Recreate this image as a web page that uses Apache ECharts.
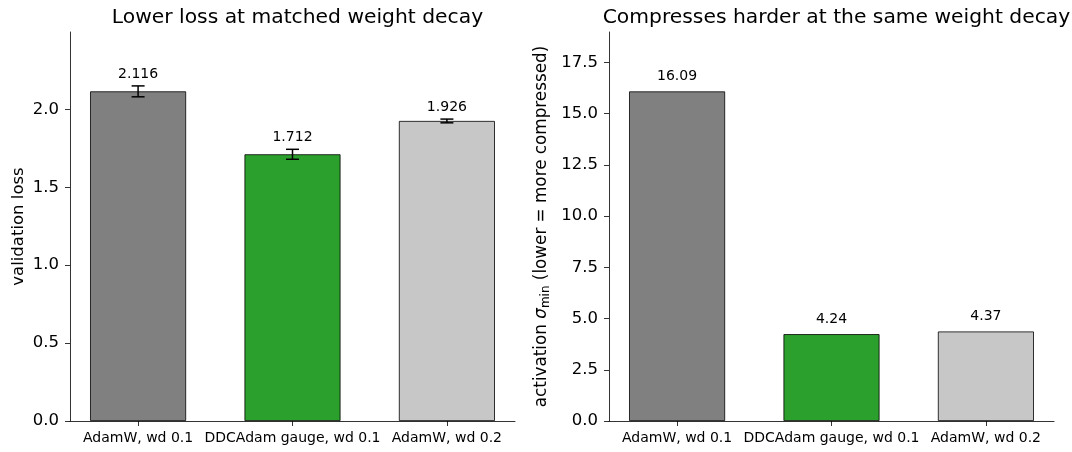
<!DOCTYPE html>
<html>
<head>
<meta charset="utf-8">
<script src="https://cdn.jsdelivr.net/npm/echarts@6/dist/echarts.min.js"></script>
<style>
  html, body { margin: 0; padding: 0; background: #fff; }
  #chart { width: 1072px; height: 452px; }
</style>
</head>
<body>
<div id="chart"></div>
<script>
// Run labels shared by both panels
const categories = ['AdamW, wd 0.1', 'DDCAdam gauge, wd 0.1', 'AdamW, wd 0.2'];
const barColors = ['#808080', '#2ca02c', '#c7c7c7'];

// Left panel: validation loss (mean and spread over seeds)
const lossValues = [2.116, 1.712, 1.926];
const lossErrors = [0.035, 0.032, 0.012];
const lossTicks = [0, 0.5, 1.0, 1.5, 2.0];

// Right panel: smallest activation singular value
const sigmaValues = [16.09, 4.24, 4.37];
const sigmaTicks = [0, 2.5, 5.0, 7.5, 10.0, 12.5, 15.0, 17.5];

const FONT = 'DejaVu Sans';
const TICK_FS = 16.5;
const positions = categories.map((_, i) => i);
const xPad = 0.441;

function xAxisFor(gridIndex) {
  return {
    type: 'value', gridIndex,
    min: -xPad, max: positions.length - 1 + xPad,
    splitLine: { show: false },
    axisLine: { show: true, onZero: false, lineStyle: { color: '#000', width: 0.8 } },
    axisTick: { show: true, customValues: positions, length: 5, lineStyle: { color: '#000', width: 0.8 } },
    axisLabel: {
      customValues: positions, margin: 10,
      color: '#000', fontFamily: FONT, fontSize: 14,
      formatter: v => categories[Math.round(v)]
    }
  };
}

function yAxisFor(gridIndex, max, ticks, decimals, name) {
  return {
    type: 'value', gridIndex, min: 0, max,
    splitLine: { show: false },
    axisLine: { show: true, onZero: false, lineStyle: { color: '#000', width: 0.8 } },
    axisTick: { show: true, customValues: ticks, length: 5, lineStyle: { color: '#000', width: 0.8 } },
    axisLabel: {
      customValues: ticks, margin: 11,
      color: '#000', fontFamily: FONT, fontSize: TICK_FS,
      formatter: v => v.toFixed(decimals)
    },
    name, nameLocation: 'middle',
    nameTextStyle: { color: '#000', fontFamily: FONT, fontSize: TICK_FS }
  };
}

const barItems = (values) => values.map((v, i) => ({
  value: [i, v],
  itemStyle: { color: barColors[i], borderColor: '#000', borderWidth: 0.8 }
}));

const errorData = lossValues.map((v, i) => [i, v, lossErrors[i]]);

const titleStyle = { fontFamily: FONT, fontSize: 20.3, fontWeight: 'normal', color: '#000' };

const chart = echarts.init(document.getElementById('chart'), null, { renderer: 'canvas' });
chart.setOption({
  animation: false,
  backgroundColor: '#fff',
  title: [
    { text: 'Lower loss at matched weight decay', left: 292.5, top: 3, textAlign: 'center', textStyle: titleStyle },
    { text: 'Compresses harder at the same weight decay', left: 831.5, top: 3, textAlign: 'center', textStyle: titleStyle }
  ],
  grid: [
    { left: 70, right: 557, top: 32, bottom: 31 },
    { left: 609, right: 18, top: 32, bottom: 31 }
  ],
  xAxis: [xAxisFor(0), xAxisFor(1)],
  yAxis: [
    Object.assign(yAxisFor(0, 2.497, lossTicks, 1, 'validation loss'), { nameGap: 43 }),
    Object.assign(yAxisFor(1, 18.99, sigmaTicks, 1,
      '{t|activation }{s|σ}{sub|min}{t| (lower = more compressed)}'), {
      nameGap: 57,
      nameTextStyle: {
        color: '#000', fontFamily: FONT, fontSize: TICK_FS,
        rich: {
          t: { fontFamily: FONT, fontSize: 16.8, color: '#000' },
          s: { fontFamily: FONT, fontSize: 16.8, fontStyle: 'italic', color: '#000' },
          sub: { fontFamily: FONT, fontSize: 12, color: '#000', padding: [8, 0, 0, 0] }
        }
      }
    })
  ],
  series: [
    {
      type: 'bar', xAxisIndex: 0, yAxisIndex: 0, barWidth: 96,
      data: barItems(lossValues)
    },
    {
      // error bars with the mean printed above each cap
      type: 'custom', xAxisIndex: 0, yAxisIndex: 0, z: 5,
      data: errorData,
      renderItem: (params, api) => {
        const x = api.value(0), v = api.value(1), e = api.value(2);
        const top = api.coord([x, v + e]);
        const bot = api.coord([x, v - e]);
        const cap = 6.5;
        const style = { stroke: '#000', lineWidth: 1.5 };
        return {
          type: 'group',
          children: [
            { type: 'line', shape: { x1: top[0], y1: top[1], x2: bot[0], y2: bot[1] }, style },
            { type: 'line', shape: { x1: top[0] - cap, y1: top[1], x2: top[0] + cap, y2: top[1] }, style },
            { type: 'line', shape: { x1: bot[0] - cap, y1: bot[1], x2: bot[0] + cap, y2: bot[1] }, style },
            { type: 'text', x: top[0], y: top[1] - 5,
              style: { text: v.toFixed(3), x: 0, y: 0, align: 'center', verticalAlign: 'bottom',
                       fill: '#000', font: '14px "DejaVu Sans"' } }
          ]
        };
      }
    },
    {
      type: 'bar', xAxisIndex: 1, yAxisIndex: 1, barWidth: 96,
      data: barItems(sigmaValues),
      label: {
        show: true, position: 'top', distance: 8,
        color: '#000', fontFamily: FONT, fontSize: 14,
        formatter: p => p.value[1].toFixed(2)
      }
    }
  ]
});
</script>
</body>
</html>
